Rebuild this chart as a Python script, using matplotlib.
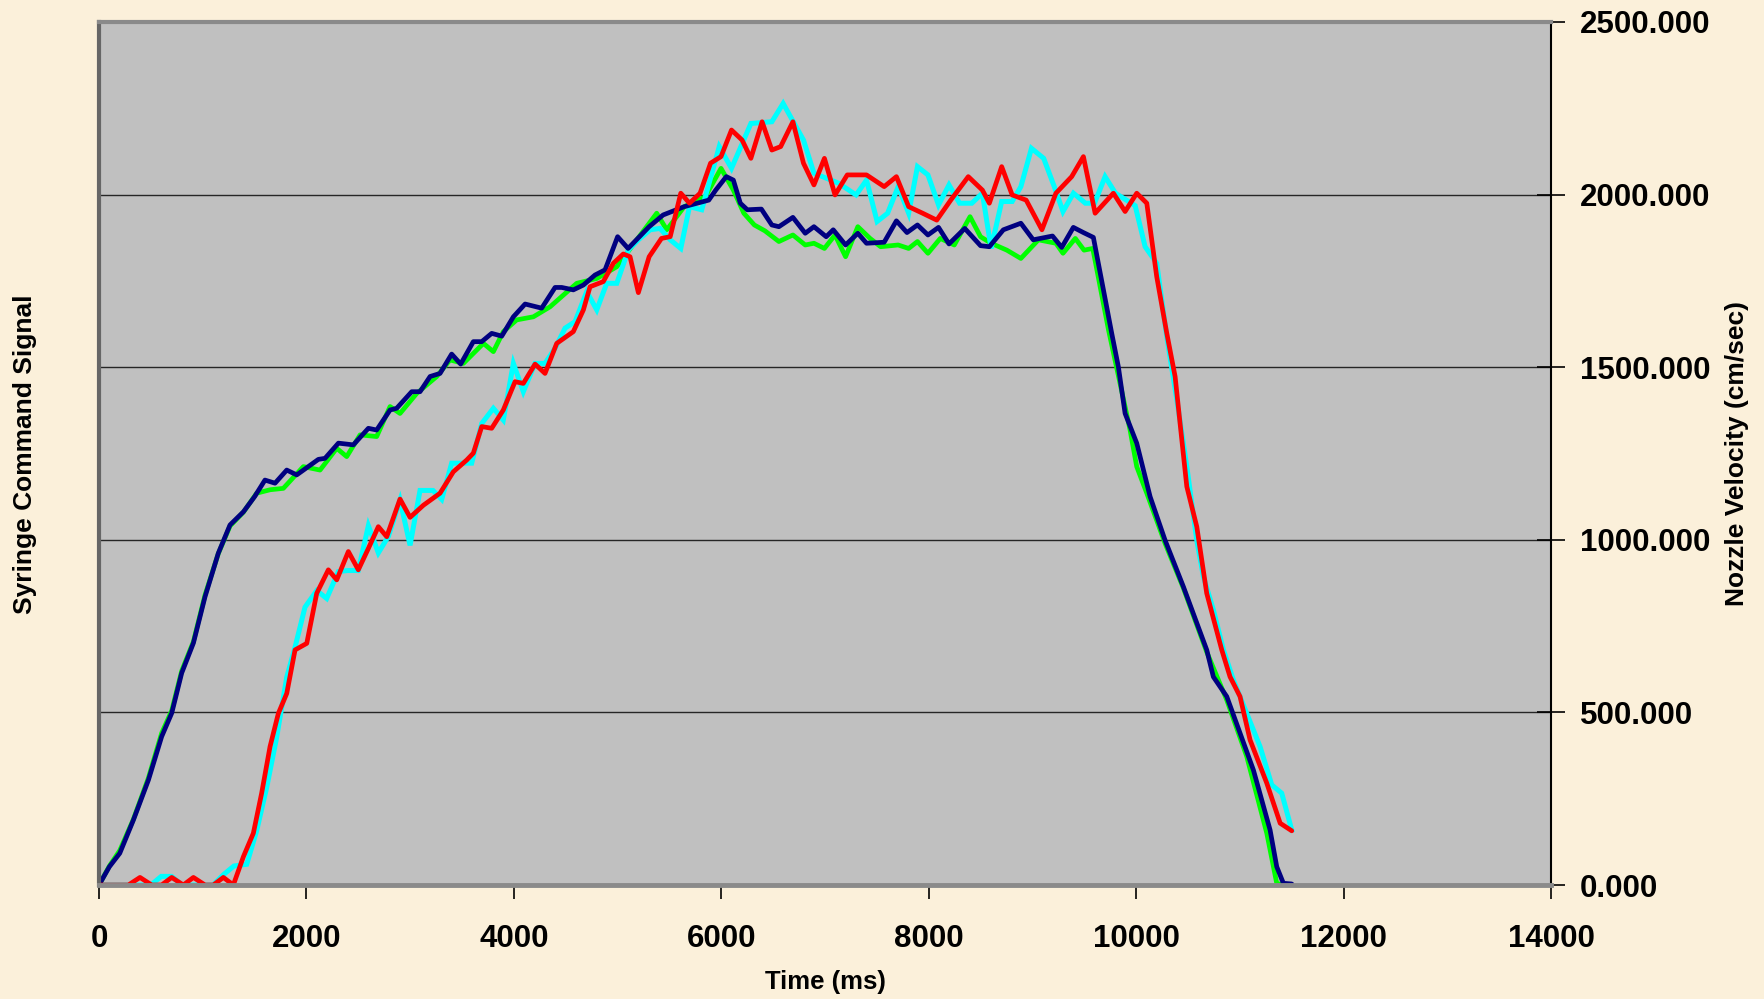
import matplotlib.pyplot as plt

plt.rcParams['font.family'] = ['Liberation Sans', 'DejaVu Sans']
plt.rcParams['font.weight'] = 'bold'

# time axis (ms) and right-axis ticks
x_ticks = [0, 2000, 4000, 6000, 8000, 10000, 12000, 14000]
y_ticks = [0, 500, 1000, 1500, 2000, 2500]

# green trace
green_t = [0, 100, 200, 331, 476, 604, 701, 797, 910, 1022, 1150, 1263, 1392, 1520, 1650,
           1777, 1970, 2131, 2292, 2388, 2517, 2677, 2806, 2902, 3063, 3256, 3384, 3513,
           3706, 3802, 3898, 4027, 4188, 4349, 4606, 4799, 4992, 5185, 5377, 5474, 5642,
           5845, 5997, 6116, 6217, 6318, 6420, 6555, 6690, 6809, 6893, 6994, 7096, 7198,
           7316, 7434, 7536, 7705, 7806, 7891, 7992, 8111, 8246, 8398, 8499, 8601, 8753,
           8888, 9057, 9226, 9294, 9413, 9497, 9581, 9733, 9941, 10005, 10102, 10278,
           10455, 10680, 10873, 11066, 11259, 11355, 11420]
green_v = [0, 55, 100, 190, 310, 440, 505, 620, 705, 840, 960, 1040, 1080, 1135, 1145,
           1149, 1212, 1202, 1265, 1241, 1304, 1299, 1386, 1366, 1424, 1473, 1521, 1511,
           1569, 1545, 1603, 1637, 1646, 1675, 1743, 1757, 1791, 1869, 1946, 1898, 1965,
           1994, 2076, 2013, 1946, 1912, 1895, 1864, 1883, 1854, 1859, 1844, 1883, 1820,
           1907, 1873, 1849, 1854, 1844, 1864, 1830, 1873, 1854, 1936, 1878, 1859, 1839,
           1815, 1869, 1859, 1830, 1873, 1839, 1844, 1608, 1318, 1212, 1135, 990,
           860, 675, 536, 372, 150, 5, 0]

# cyan trace
cyan_t = [0, 500, 600, 700, 800, 1100, 1200, 1300, 1424, 1520, 1617, 1713, 1810, 1890,
          1986, 2099, 2195, 2308, 2400, 2500, 2597, 2693, 2790, 2902, 2999, 3095, 3220,
          3304, 3400, 3593, 3690, 3802, 3898, 3995, 4091, 4204, 4300, 4397, 4493, 4590,
          4702, 4799, 4895, 4992, 5104, 5200, 5313, 5409, 5507, 5609, 5693, 5811, 5980,
          6098, 6285, 6487, 6596, 6792, 6893, 7130, 7299, 7400, 7502, 7603, 7705, 7806,
          7891, 7992, 8094, 8195, 8297, 8415, 8517, 8601, 8703, 8804, 8888, 8990, 9108,
          9210, 9294, 9395, 9510, 9598, 9700, 9800, 9990, 10086, 10198, 10295, 10392,
          10488, 10584, 10648, 10744, 10841, 10937, 11066, 11194, 11307, 11403, 11500]
cyan_v = [0, 0, 25, 25, 0, 0, 30, 55, 60, 157, 283, 428, 602, 689,
          805, 853, 830, 908, 911, 911, 1041, 962, 1010, 1115, 984, 1143, 1143,
          1117, 1222, 1222, 1337, 1381, 1347, 1511, 1429, 1511, 1511, 1555, 1613, 1632,
          1719, 1666, 1743, 1743, 1840, 1869, 1898, 1902, 1869, 1844, 1965, 1956, 2139,
          2076, 2206, 2211, 2264, 2158, 2062, 2033, 1999, 2042, 1922, 1946, 2023, 1946,
          2081, 2057, 1970, 2028, 1975, 1975, 2004, 1844, 1980, 1980, 2023, 2134, 2105,
          2023, 1951, 2004, 1975, 1975, 2052, 2004, 1968, 1849, 1801, 1588, 1405,
          1212, 999, 893, 797, 681, 594, 497, 401, 290, 266, 159]

# navy trace
navy_t = [0, 100, 200, 331, 476, 604, 701, 797, 910, 1022, 1150, 1263, 1392, 1500, 1600,
          1697, 1810, 1906, 2115, 2179, 2308, 2452, 2597, 2677, 2806, 2870, 3015, 3095,
          3192, 3288, 3400, 3487, 3609, 3690, 3786, 3883, 3995, 4108, 4268, 4397, 4461,
          4573, 4670, 4782, 4879, 5000, 5101, 5304, 5439, 5642, 5879, 5946, 6048, 6116,
          6183, 6251, 6386, 6487, 6555, 6690, 6809, 6893, 7011, 7079, 7198, 7316, 7400,
          7570, 7688, 7790, 7891, 7992, 8094, 8195, 8347, 8499, 8584, 8719, 8888, 9007,
          9193, 9282, 9394, 9491, 9587, 9684, 9764, 9828, 9893, 10005, 10134, 10278,
          10455, 10680, 10744, 10873, 11001, 11130, 11291, 11355, 11419, 11500]
navy_v = [0, 53, 92, 188, 304, 430, 498, 614, 701, 835, 961, 1043, 1081, 1125, 1173,
          1164, 1202, 1188, 1233, 1236, 1280, 1275, 1323, 1318, 1376, 1381, 1429, 1429,
          1473, 1482, 1538, 1509, 1574, 1574, 1598, 1590, 1646, 1683, 1671, 1731, 1731,
          1724, 1738, 1767, 1782, 1878, 1844, 1907, 1941, 1965, 1984, 2013, 2052, 2042,
          1975, 1956, 1958, 1912, 1907, 1934, 1888, 1907, 1878, 1898, 1854, 1888, 1859,
          1862, 1924, 1890, 1912, 1883, 1905, 1857, 1902, 1852, 1849, 1898, 1917, 1869,
          1880, 1847, 1905, 1890, 1876, 1724, 1598, 1501, 1366, 1280, 1125, 999,
          864, 681, 603, 546, 440, 333, 159, 53, 5, 3]

# red trace
red_t = [0, 283, 395, 508, 604, 701, 813, 910, 1022, 1102, 1199, 1295, 1392, 1488, 1568,
         1649, 1729, 1810, 1890, 2003, 2099, 2211, 2292, 2404, 2500, 2597, 2693, 2774,
         2902, 2999, 3127, 3288, 3416, 3545, 3609, 3690, 3786, 3898, 4011, 4091, 4204,
         4300, 4413, 4573, 4670, 4734, 4862, 4959, 5055, 5120, 5200, 5304, 5423, 5507,
         5609, 5693, 5795, 5896, 5997, 6098, 6200, 6285, 6393, 6487, 6572, 6690, 6792,
         6893, 6994, 7096, 7214, 7400, 7570, 7688, 7806, 7941, 8077, 8212, 8381, 8517,
         8584, 8703, 8804, 8939, 9091, 9226, 9378, 9491, 9604, 9780, 9893, 10005, 10102,
         10198, 10295, 10375, 10440, 10488, 10584, 10680, 10825, 10905, 11001, 11098,
         11259, 11388, 11500]
red_v = [0, 0, 22, 0, 0, 22, 0, 22, 0, 0, 22, 0, 82, 150, 266,
         401, 497, 555, 681, 700, 845, 913, 884, 966, 913, 975, 1038, 1009,
         1118, 1065, 1100, 1135, 1197, 1231, 1251, 1328, 1323, 1376, 1458, 1453, 1509,
         1482, 1569, 1603, 1666, 1733, 1748, 1801, 1828, 1820, 1716, 1820, 1873, 1878,
         2004, 1975, 2004, 2091, 2110, 2187, 2158, 2105, 2211, 2129, 2139, 2211, 2091,
         2028, 2105, 1999, 2057, 2057, 2023, 2052, 1965, 1946, 1926, 1984, 2052, 2013,
         1975, 2081, 1999, 1984, 1898, 2004, 2052, 2110, 1946, 2004, 1951, 2004, 1975,
         1762, 1598, 1473, 1289, 1154, 1038, 845, 681, 603, 546, 420,
         295, 179, 157]

fig = plt.figure(figsize=(17.65, 9.99), dpi=100, facecolor='#FBF0DA')
ax = fig.add_axes([0.0561, 0.1141, 0.8227, 0.8639])
ax.set_facecolor('#C0C0C0')
ax.set_axisbelow(True)

lw = 3.4
ax.plot(green_t, green_v, color='#00FF00', lw=lw, solid_joinstyle='round', solid_capstyle='round')
ax.plot(cyan_t, cyan_v, color='#00FFFF', lw=lw + 0.2, solid_joinstyle='miter')
ax.plot(navy_t, navy_v, color='#000080', lw=lw, solid_joinstyle='round', solid_capstyle='round')
ax.plot(red_t, red_v, color='#FF0000', lw=lw, solid_joinstyle='round', solid_capstyle='round')

ax.set_xlim(0, 14000)
ax.set_ylim(0, 2500)
ax.set_xticks(x_ticks)
ax.set_xticklabels([str(t) for t in x_ticks])
ax.yaxis.tick_right()
ax.set_yticks(y_ticks)
ax.set_yticklabels([f'{v:.3f}' for v in y_ticks])
ax.grid(axis='y', color='#262626', lw=1.0)
ax.grid(axis='x', visible=False)

ax.tick_params(axis='x', direction='out', length=10, width=1.2, pad=18, labelsize=22.5, colors='black')
ax.tick_params(axis='y', direction='inout', length=20, width=1.2, pad=11, labelsize=22.5, colors='black')
for lab in ax.get_xticklabels() + ax.get_yticklabels():
    lab.set_fontweight('bold')

ax.spines['left'].set_color('#666666')
ax.spines['left'].set_linewidth(3)
ax.spines['top'].set_color('#8A8A8A')
ax.spines['top'].set_linewidth(3)
ax.spines['bottom'].set_color('#8A8A8A')
ax.spines['bottom'].set_linewidth(3.5)
ax.spines['right'].set_color('black')
ax.spines['right'].set_linewidth(1.5)

fig.text(825 / 1765, 1 - 982 / 999, 'Time (ms)', ha='center', va='center',
         fontsize=18.5, fontweight='bold')
fig.text(25 / 1765, 1 - 454 / 999, 'Syringe Command Signal', ha='center', va='center',
         rotation=90, fontsize=19, fontweight='bold')
fig.text(1737 / 1765, 1 - 454 / 999, 'Nozzle Velocity (cm/sec)', ha='center', va='center',
         rotation=90, fontsize=19, fontweight='bold')

fig.savefig('out.png', dpi=100, facecolor=fig.get_facecolor())
